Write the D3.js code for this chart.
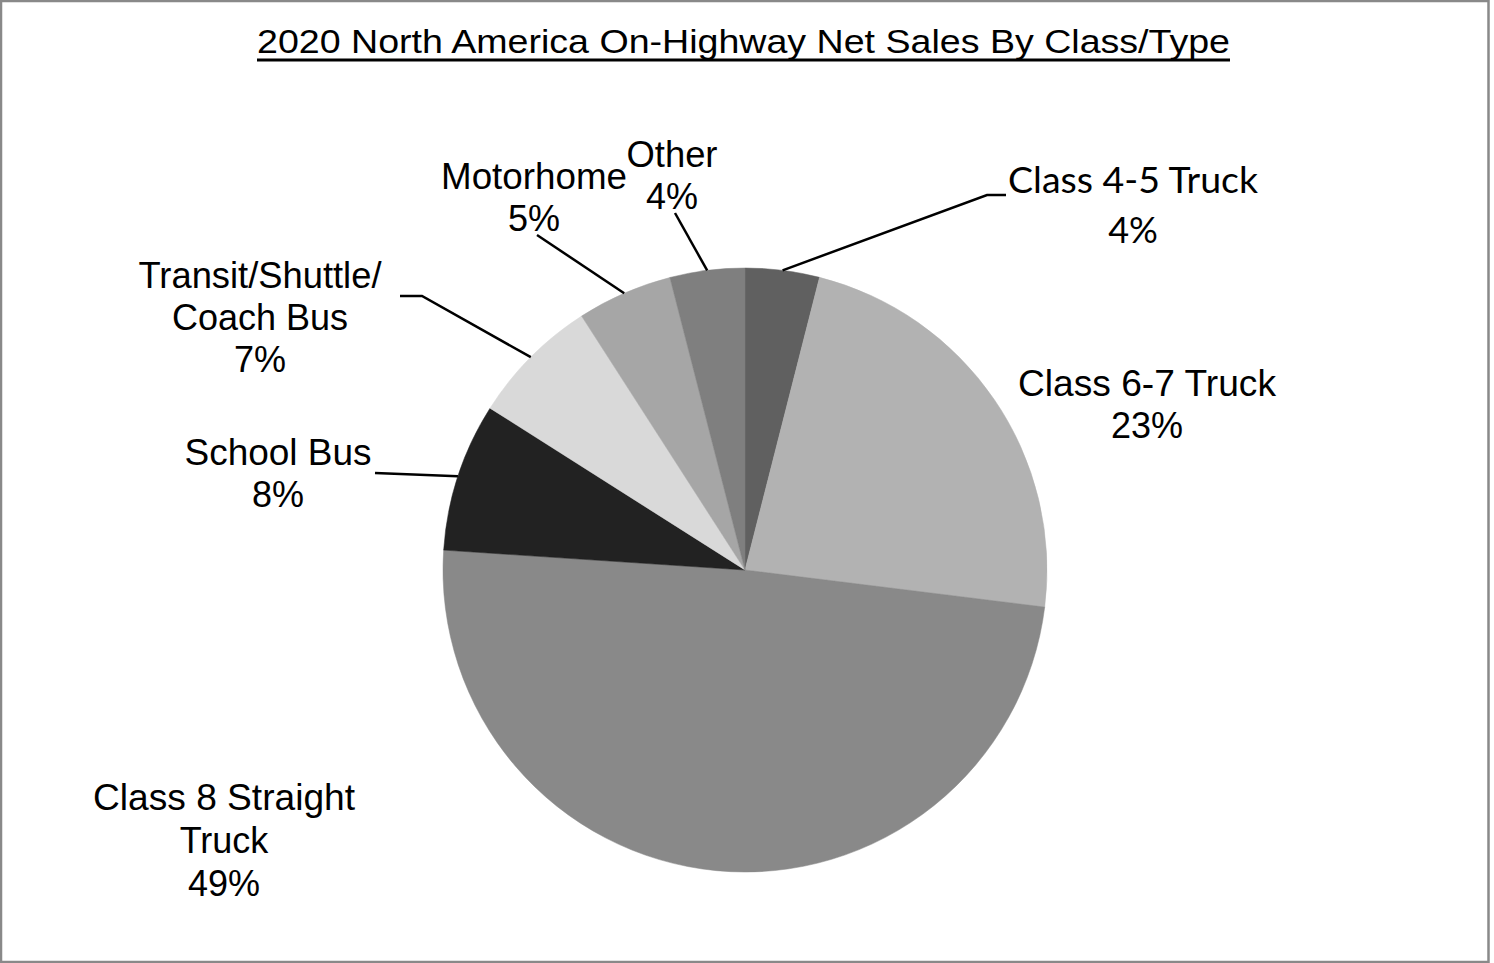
<!DOCTYPE html>
<html>
<head>
<meta charset="utf-8">
<script src="https://cdn.jsdelivr.net/npm/d3@7/dist/d3.min.js"></script>
<style>
  html, body { margin: 0; padding: 0; background: #fff; }
  svg { display: block; }
</style>
</head>
<body>
<svg id="chart" width="1494" height="963"></svg>
<script>
// ---- data ----
const title = "2020 North America On-Highway Net Sales By Class/Type";
const categories = ["Class 4-5 Truck", "Class 6-7 Truck", "Class 8 Straight Truck", "School Bus", "Transit/Shuttle/Coach Bus", "Motorhome", "Other"];
const values = [3.97, 22.99, 49.09, 7.95, 6.9, 5.1, 4.0];
const percentLabels = ["4%", "23%", "49%", "8%", "7%", "5%", "4%"];

// ---- styles / layout ----
const sliceColors = ["#606060", "#b2b2b2", "#898989", "#222222", "#d9d9d9", "#a6a6a6", "#7f7f7f"];
const labelLayout = [
  { lines: ["Class 4-5 Truck", "4%"], x: 1133, y: 193, dy: 50, font: "Lato, 'Open Sans', sans-serif", size: 36, widths: [250, null], leader: [[987, 195], [1006, 195]] },
  { lines: ["Class 6-7 Truck", "23%"], x: 1147, y: 396, dy: 42, font: "'Liberation Sans', Arial, sans-serif", size: 36, widths: [258, null], leader: null },
  { lines: ["Class 8 Straight", "Truck", "49%"], x: 224, y: 810, dy: 43, font: "'Liberation Sans', Arial, sans-serif", size: 36, widths: [262, null, null], leader: null },
  { lines: ["School Bus", "8%"], x: 278, y: 465, dy: 42, font: "'Liberation Sans', Arial, sans-serif", size: 36, widths: [187, null], leader: [[375, 473]] },
  { lines: ["Transit/Shuttle/", "Coach Bus", "7%"], x: 260, y: 288, dy: 42, font: "'Liberation Sans', Arial, sans-serif", size: 36, widths: [243, null, null], leader: [[422, 296], [400, 296]] },
  { lines: ["Motorhome", "5%"], x: 534, y: 189, dy: 42, font: "'Liberation Sans', Arial, sans-serif", size: 36, widths: [186, null], leader: [[537, 235]] },
  { lines: ["Other", "4%"], x: 672, y: 167, dy: 42, font: "'Liberation Sans', Arial, sans-serif", size: 36, widths: [91, null], leader: [[675, 213]] }
];

const svg = d3.select("#chart");

// border
svg.append("rect")
  .attr("x", 1).attr("y", 1)
  .attr("width", 1487.5).attr("height", 961)
  .attr("fill", "#fff")
  .attr("stroke", "#898989").attr("stroke-width", 2.5);

// title
const titleText = svg.append("text")
  .attr("x", 743.5).attr("y", 53)
  .attr("text-anchor", "middle")
  .attr("font-family", "'Liberation Sans', Arial, sans-serif")
  .attr("font-size", 33)
  .attr("fill", "#000")
  .attr("textLength", 973)
  .attr("lengthAdjust", "spacingAndGlyphs")
  .text(title);
svg.append("line")
  .attr("x1", 257).attr("x2", 1230)
  .attr("y1", 60).attr("y2", 60)
  .attr("stroke", "#000").attr("stroke-width", 3);

// pie
const cx = 745, cy = 570, r = 302;
const g = svg.append("g").attr("transform", `translate(${cx},${cy})`);
const pie = d3.pie().sort(null).value(d => d).startAngle(0).endAngle(2 * Math.PI);
const arcs = pie(values);
const arc = d3.arc().innerRadius(0).outerRadius(r);
const rimArc = d3.arc().innerRadius(r).outerRadius(r);

g.selectAll("path.slice")
  .data(arcs)
  .join("path")
  .attr("class", "slice")
  .attr("d", arc)
  .attr("fill", (d, i) => sliceColors[i])
  .attr("stroke", (d, i) => sliceColors[i])
  .attr("stroke-width", 0.5);

// leader lines
arcs.forEach((d, i) => {
  const L = labelLayout[i];
  if (!L.leader) return;
  const c = rimArc.centroid(d);
  const pts = [[cx + c[0], cy + c[1]], ...L.leader];
  svg.append("path")
    .attr("d", d3.line()(pts))
    .attr("fill", "none")
    .attr("stroke", "#000")
    .attr("stroke-width", 2.5);
});

// labels
categories.forEach((cat, i) => {
  const L = labelLayout[i];
  const t = svg.append("text")
    .attr("text-anchor", "middle")
    .attr("font-family", L.font)
    .attr("font-size", L.size)
    .attr("fill", "#000");
  L.lines.forEach((line, k) => {
    const txt = k === L.lines.length - 1 ? percentLabels[i] : line;
    const ts = t.append("tspan")
      .attr("x", L.x)
      .attr("y", L.y + k * L.dy)
      .text(txt);
    if (L.widths[k]) ts.attr("textLength", L.widths[k]).attr("lengthAdjust", "spacingAndGlyphs");
  });
});
</script>
</body>
</html>
